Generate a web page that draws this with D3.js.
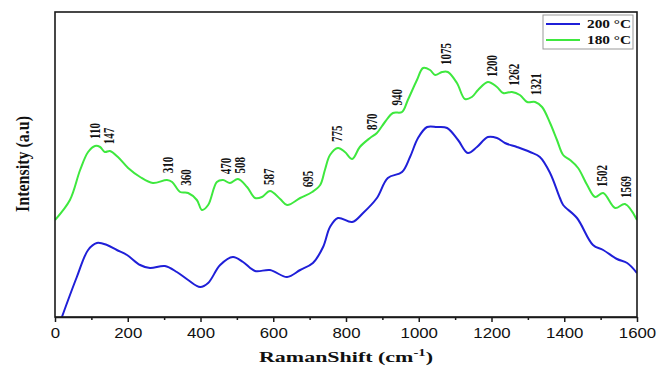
<!DOCTYPE html>
<html>
<head>
<meta charset="utf-8">
<script src="https://cdn.jsdelivr.net/npm/d3@7/dist/d3.min.js"></script>
<style>
  body { margin: 0; background: #fff; }
  svg { display: block; }
</style>
</head>
<body>
<div id="chart"></div>
<script>
// Raman shift (cm-1) and intensity (a.u.)
const shift180 = [0, 41, 69, 91, 110, 124, 137, 151, 173, 201, 234, 269, 308, 322, 344, 366, 390, 404, 421, 445, 462, 481, 503, 528, 550, 569, 591, 619, 638, 674, 707, 729, 742, 756, 778, 797, 817, 838, 866, 885, 907, 929, 954, 970, 995, 1012, 1031, 1045, 1064, 1080, 1105, 1127, 1146, 1163, 1190, 1215, 1232, 1256, 1278, 1298, 1320, 1339, 1361, 1380, 1397, 1416, 1438, 1463, 1485, 1507, 1540, 1567, 1600];
const int180   = [97, 117, 147, 165, 171, 170, 165, 166, 160, 149, 140, 134, 137, 135, 125, 124, 117, 107, 112, 135, 137, 134, 138, 130, 119, 120, 126, 118, 112, 119, 125, 132, 147, 162, 169, 165, 158, 170, 179, 184, 195, 204, 205, 217, 237, 249, 247, 242, 245, 245, 234, 218, 220, 227, 235, 230, 224, 225, 222, 215, 215, 210, 194, 177, 162, 157, 149, 132, 120, 124, 109, 113, 97];

const shift200 = [19, 60, 91, 115, 143, 170, 198, 234, 261, 302, 335, 366, 399, 421, 454, 489, 517, 550, 591, 638, 674, 709, 737, 756, 778, 817, 847, 885, 915, 954, 976, 998, 1023, 1050, 1078, 1108, 1135, 1160, 1190, 1215, 1237, 1270, 1306, 1333, 1361, 1388, 1397, 1435, 1479, 1507, 1545, 1573, 1600];
const int200   = [0, 40, 67, 74, 72, 67, 62, 52, 49, 51, 45, 37, 30, 34, 52, 60, 55, 46, 47, 40, 47, 54, 70, 90, 99, 95, 104, 119, 139, 145, 160, 179, 190, 190, 189, 177, 164, 170, 180, 179, 174, 170, 165, 160, 144, 119, 112, 99, 72, 67, 58, 54, 44];

const peakLabels = [110, 147, 310, 360, 470, 508, 587, 695, 775, 870, 940, 1075, 1200, 1262, 1321, 1502, 1569];
const xTicks = [0, 200, 400, 600, 800, 1000, 1200, 1400, 1600];
const xMinorTicks = [100, 300, 500, 700, 900, 1100, 1300, 1500];
const seriesNames = ["200 °C", "180 °C"];
const seriesColors = ["#1f1fd8", "#3ee83e"];

const width = 657, height = 366;
const margin = { top: 12, right: 20, bottom: 49, left: 55 };

const svg = d3.select("#chart")
    .append("svg")
    .attr("width", width)
    .attr("height", height);

const x = d3.scaleLinear()
    .domain([0, 1600])
    .range([margin.left, width - margin.right]);

const y = d3.scaleLinear()
    .domain([0, 305])
    .range([height - margin.bottom, margin.top]);

const series200 = shift200.map((s, i) => ({ x: s, y: int200[i] }));
const series180 = shift180.map((s, i) => ({ x: s, y: int180[i] }));

svg.append("clipPath")
    .attr("id", "plot-clip")
    .append("rect")
    .attr("x", margin.left)
    .attr("y", margin.top)
    .attr("width", width - margin.left - margin.right)
    .attr("height", height - margin.top - margin.bottom);

const line = d3.line()
    .x(d => x(d.x))
    .y(d => y(d.y))
    .curve(d3.curveCatmullRom.alpha(0.5));

[series200, series180].forEach((data, i) => {
    svg.append("path")
        .datum(data)
        .attr("clip-path", "url(#plot-clip)")
        .attr("fill", "none")
        .attr("stroke", seriesColors[i])
        .attr("stroke-width", 2)
        .attr("stroke-linejoin", "round")
        .attr("d", line);
});

// peak labels sit just above the 180 °C curve
const bisect = d3.bisector(d => d.x).left;
function curveAt(data, v) {
    const i = Math.max(1, Math.min(data.length - 1, bisect(data, v)));
    const a = data[i - 1], b = data[i];
    return a.y + (b.y - a.y) * (v - a.x) / (b.x - a.x);
}

svg.append("g")
    .selectAll("text")
    .data(peakLabels)
    .enter()
    .append("text")
    .attr("transform", d => "translate(" + x(d) + "," + (y(curveAt(series180, d)) - 7) + ") rotate(-90) scale(1,1.4)")
    .attr("dy", "0.35em")
    .attr("font-family", "'Liberation Serif', 'Times New Roman', serif")
    .attr("font-weight", "bold")
    .attr("font-size", 11)
    .attr("fill", "#111")
    .text(d => d);

// frame
svg.append("rect")
    .attr("x", margin.left)
    .attr("y", margin.top)
    .attr("width", width - margin.left - margin.right)
    .attr("height", height - margin.top - margin.bottom)
    .attr("fill", "none")
    .attr("stroke", "#1a1a1a")
    .attr("stroke-width", 1.6);

// x axis
const xAxis = d3.axisBottom(x)
    .tickValues(xTicks)
    .tickSize(5)
    .tickSizeOuter(0)
    .tickPadding(6)
    .tickFormat(d3.format("d"));

const gx = svg.append("g")
    .attr("transform", "translate(0," + (height - margin.bottom) + ")")
    .call(xAxis);
gx.select(".domain").attr("stroke", "#1a1a1a").attr("stroke-width", 1.6);
gx.selectAll(".tick line").attr("stroke", "#1a1a1a").attr("stroke-width", 1.5);
gx.selectAll(".tick text")
    .attr("font-family", "'Liberation Sans', Arial, sans-serif")
    .attr("font-size", 14)
    .attr("fill", "#111")
    .attr("transform", "scale(1.2,1)");

const gxMinor = svg.append("g")
    .attr("transform", "translate(0," + (height - margin.bottom) + ")")
    .call(d3.axisBottom(x).tickValues(xMinorTicks).tickSize(3).tickSizeOuter(0).tickFormat(""));
gxMinor.select(".domain").remove();
gxMinor.selectAll(".tick line").attr("stroke", "#1a1a1a").attr("stroke-width", 1.5);

// axis titles
const xTitle = svg.append("text")
    .attr("x", (margin.left + width - margin.right) / 2)
    .attr("y", 362)
    .attr("text-anchor", "middle")
    .attr("font-family", "'Liberation Serif', 'Times New Roman', serif")
    .attr("font-weight", "bold")
    .attr("font-size", 15)
    .attr("fill", "#111")
    .attr("textLength", 174)
    .attr("lengthAdjust", "spacingAndGlyphs");
xTitle.append("tspan").text("RamanShift (cm");
xTitle.append("tspan").attr("dy", -6).attr("font-size", 10).text("-1");
xTitle.append("tspan").attr("dy", 6).text(")");

svg.append("text")
    .attr("transform", "translate(22,164) rotate(-90) scale(1,1.2)")
    .attr("text-anchor", "middle")
    .attr("dy", "0.35em")
    .attr("font-family", "'Liberation Serif', 'Times New Roman', serif")
    .attr("font-weight", "bold")
    .attr("font-size", 16)
    .attr("fill", "#111")
    .text("Intensity (a.u)");

// legend
const legend = svg.append("g").attr("transform", "translate(543,15)");
legend.append("rect")
    .attr("width", 90)
    .attr("height", 34)
    .attr("fill", "#fff")
    .attr("stroke", "#999")
    .attr("stroke-width", 1);

seriesNames.forEach((name, i) => {
    const yy = 9 + i * 16;
    legend.append("line")
        .attr("x1", 3).attr("x2", 37)
        .attr("y1", yy).attr("y2", yy)
        .attr("stroke", seriesColors[i])
        .attr("stroke-width", 2);
    legend.append("text")
        .attr("x", 44)
        .attr("y", yy)
        .attr("dy", "0.35em")
        .attr("font-family", "'Liberation Serif', 'Times New Roman', serif")
        .attr("font-weight", "bold")
        .attr("font-size", 12)
        .attr("fill", "#111")
        .attr("textLength", 44)
        .attr("lengthAdjust", "spacingAndGlyphs")
        .text(name);
});
</script>
</body>
</html>
